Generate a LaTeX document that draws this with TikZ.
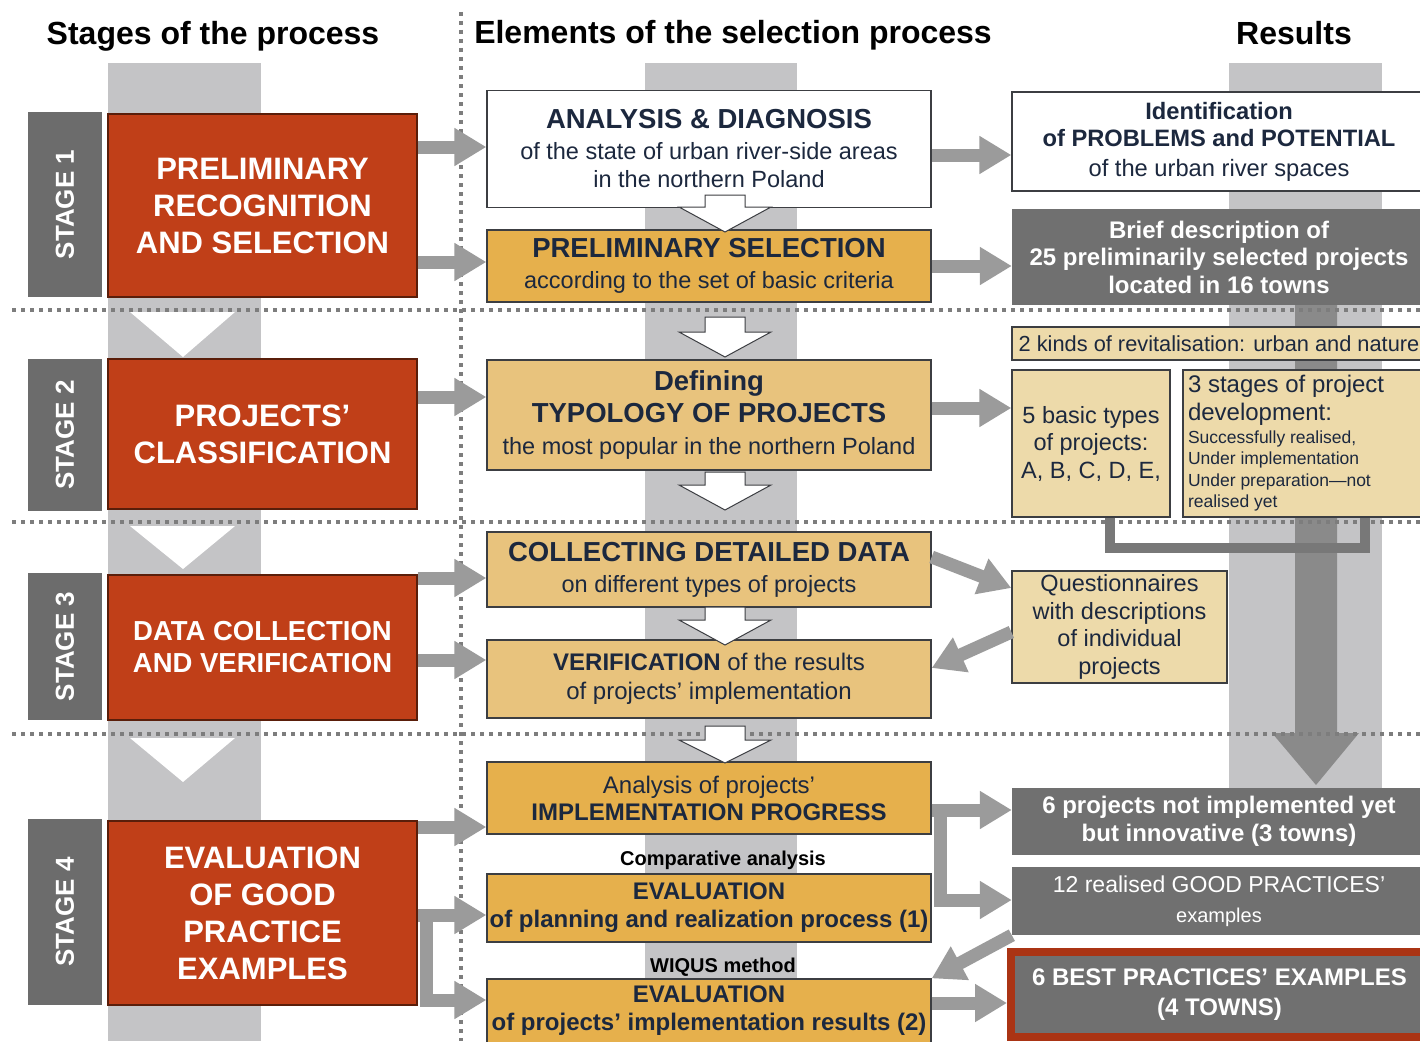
\documentclass[tikz,border=0pt]{standalone}
\usepackage{fontspec}
\setmainfont{Liberation Sans}
\usetikzlibrary{arrows.meta,calc}

\definecolor{redbox}{RGB}{192,63,24}
\definecolor{redline}{RGB}{90,30,10}
\definecolor{bestred}{RGB}{170,52,20}
\definecolor{stagegray}{RGB}{108,108,108}
\definecolor{resgray}{RGB}{112,112,112}
\definecolor{band}{RGB}{196,196,198}
\definecolor{arrowgray}{RGB}{155,155,155}
\definecolor{darkarrow}{RGB}{138,138,138}
\definecolor{brkgray}{RGB}{120,120,120}
\definecolor{orangeA}{RGB}{230,176,76}
\definecolor{orangeB}{RGB}{232,195,125}
\definecolor{tanbox}{RGB}{237,218,170}
\definecolor{navy}{RGB}{28,40,62}
\definecolor{dotgray}{RGB}{125,125,125}
\definecolor{edge}{RGB}{60,62,66}

\newcommand\ttl[1]{{\bfseries\fontsize{27.5}{31}\selectfont #1}}
\newcommand\hollowarr[4]{%
  \draw[hollow] (#1-20,#2) -- (#1+20,#2) -- (#1+20,#3) -- (#1+46,#3) -- (#1,#4) -- (#1-46,#3) -- (#1-20,#3) -- cycle;}

\begin{document}
\begin{tikzpicture}[x=1pt,y=-1pt,
  lbl/.style={rectangle, fill=stagegray, text=white, font=\bfseries\fontsize{26}{30}\selectfont, rotate=90, inner sep=0pt, minimum height=74pt},
  redb/.style={rectangle, fill=redbox, draw=redline, line width=1.2pt, text=white, font=\bfseries\fontsize{31}{37}\selectfont, align=center, minimum width=309pt, inner sep=0pt},
  mbox/.style={rectangle, draw=edge, line width=1.3pt, text=navy, align=center, minimum width=444pt, inner sep=0pt, font=\fontsize{23.5}{28}\selectfont},
  rbox/.style={rectangle, draw=edge, line width=1.3pt, text=navy, align=center, inner sep=0pt, font=\fontsize{23.5}{27.5}\selectfont},
  gbox/.style={rectangle, fill=resgray, text=white, align=center, inner sep=0pt, font=\bfseries\fontsize{24}{28}\selectfont},
  garrow/.style={draw=arrowgray, line width=13pt, -{Triangle[length=32pt,width=36pt]}},
  dots/.style={draw=dotgray, line width=4pt, dash pattern=on 4pt off 5pt},
  hollow/.style={fill=white, draw=edge, line width=1pt},
  note/.style={font=\bfseries\fontsize{20}{24}\selectfont, text=black, inner sep=0pt},
  head/.style={font=\bfseries\fontsize{32}{36}\selectfont, text=black, inner sep=0pt}
]
\path[use as bounding box] (0,0) rectangle (1420,1041);
\clip (0,0) rectangle (1420,1041);
\fill[white] (0,0) rectangle (1420,1041);

% background bands
\fill[band] (108,63) rectangle (261,1041);
\fill[band] (645,63) rectangle (797,1041);
\fill[band] (1229,63) rectangle (1382,790);
\fill[white] (130,312) -- (235,312) -- (183,357) -- cycle;
\fill[white] (130,526) -- (235,526) -- (183,569) -- cycle;
\fill[white] (130,738) -- (235,738) -- (183,782) -- cycle;
\fill[darkarrow] (1295,300) -- (1337,300) -- (1337,733) -- (1359,733) -- (1316,785) -- (1272,733) -- (1295,733) -- cycle;

% dotted separators
\draw[dots] (12,310) -- (1420,310);
\draw[dots] (12,522) -- (1420,522);
\draw[dots] (12,734) -- (1420,734);
\draw[dots] (461,12) -- (461,1041);

% headers
\node[head] (h1) at (213,36) {Stages of the process};
\node[head] (h2) at (733,35) {Elements of the selection process};
\node[head] (h3) at (1294,33) {Results};

% left column
\node[lbl, minimum width=185pt] (st1) at (65,204.5) {STAGE 1};
\node[redb, minimum height=183pt] (r1) at (262.5,205.5) {PRELIMINARY\\RECOGNITION\\AND SELECTION};
\node[lbl, minimum width=152pt] (st2) at (65,435) {STAGE 2};
\node[redb, minimum height=150pt] (r2) at (262.5,434) {PROJECTS’\\CLASSIFICATION};
\node[lbl, minimum width=147pt] (st3) at (65,646.5) {STAGE 3};
\node[redb, minimum height=145pt, font=\bfseries\fontsize{27.5}{32}\selectfont] (r3) at (262.5,647.5) {DATA COLLECTION\\AND VERIFICATION};
\node[lbl, minimum width=186pt] (st4) at (65,912) {STAGE 4};
\node[redb, minimum height=184pt] (r4) at (262.5,913) {EVALUATION\\OF GOOD\\PRACTICE\\EXAMPLES};

% middle column
\node[mbox, fill=white, minimum height=117pt] (ad) at (709,149) {\ttl{ANALYSIS \& DIAGNOSIS}\\[3pt]of the state of urban river-side areas\\in the northern Poland};
\node[mbox, fill=orangeA, minimum height=72pt] (ps) at (709,266) {\ttl{PRELIMINARY SELECTION}\\[3pt]according to the set of basic criteria};
\node[mbox, fill=orangeB, minimum height=110pt] (dt) at (709,415) {\ttl{Defining}\\[4pt]\ttl{TYPOLOGY OF PROJECTS}\\[4pt]the most popular in the northern Poland};
\node[mbox, fill=orangeB, minimum height=75pt] (cd) at (709,569.5) {\ttl{COLLECTING DETAILED DATA}\\[3pt]on different types of projects};
\node[mbox, fill=orangeB, minimum height=78pt, font=\fontsize{24}{29}\selectfont] (vr) at (709,679) {\textbf{VERIFICATION} of the results\\of projects’ implementation};
\node[mbox, fill=orangeA, minimum height=72pt, font=\fontsize{24}{27}\selectfont] (ap) at (709,798) {Analysis of projects’\\\textbf{IMPLEMENTATION PROGRESS}};
\node[note] (ca) at (723,860) {Comparative analysis};
\node[mbox, fill=orangeA, minimum height=68pt, font=\bfseries\fontsize{24}{28}\selectfont] (e1) at (709,908) {EVALUATION\\of planning and realization process (1)};
\node[note] (wq) at (723,967) {WIQUS method};
\node[mbox, fill=orangeA, minimum height=64pt, font=\bfseries\fontsize{24}{28}\selectfont] (e2) at (709,1011) {EVALUATION\\of projects’ implementation results (2)};

% hollow arrows between middle boxes
\hollowarr{725}{195}{207}{232}
\hollowarr{725}{317}{332}{357}
\hollowarr{725}{472}{485}{510}
\hollowarr{725}{607}{620}{645}
\hollowarr{725}{726}{740}{763}

% right column
\node[rbox, fill=white, minimum width=414pt, minimum height=99pt, font=\fontsize{23.7}{27}\selectfont] (id) at (1219,141.5) {\textbf{Identification}\\\textbf{of PROBLEMS and POTENTIAL}\\[3pt]of the urban river spaces};
\node[gbox, minimum width=414pt, minimum height=96pt, font=\bfseries\fontsize{24}{27.5}\selectfont] (bd) at (1219,257) {Brief description of\\25 preliminarily selected projects\\located in 16 towns};
\node[rbox, fill=tanbox, minimum width=414pt, minimum height=33pt, font=\fontsize{21.8}{26}\selectfont] (k2) at (1219,343.5) {2 kinds of revitalisation: urban and nature};
\node[rbox, fill=tanbox, minimum width=158pt, minimum height=147pt] (b5) at (1091,443.5) {5 basic types\\of projects:\\A, B, C, D, E,};
\node[rbox, fill=tanbox, minimum width=241pt, minimum height=147pt, text width=231pt, inner xsep=5pt, align=left] (s3) at (1303.5,443.5) {{\fontsize{24}{28}\selectfont\spaceskip=0pt\xspaceskip=0pt 3 stages of project\par development:\par}\vspace{1pt}{\fontsize{17.5}{21.5}\selectfont\spaceskip=0pt\xspaceskip=0pt Successfully realised,\par Under implementation\par Under preparation—not\par realised yet\par}};
\node[rbox, fill=tanbox, minimum width=215pt, minimum height=112pt] (qn) at (1119.5,627) {Questionnaires\\with descriptions\\of individual\\projects};
\node[gbox, minimum width=414pt, minimum height=67pt] (six) at (1219,821.5) {6 projects not implemented yet\\but innovative (3 towns)};
\node[gbox, minimum width=414pt, minimum height=68pt, font=\fontsize{23}{30}\selectfont] (tw) at (1219,901) {12 realised GOOD PRACTICES’\\{\fontsize{20}{24}\selectfont examples}};
\node[gbox, draw=bestred, line width=8pt, minimum width=417pt, minimum height=85pt, font=\bfseries\fontsize{24}{30}\selectfont] (best) at (1219.5,994.5) {6 BEST PRACTICES’ EXAMPLES\\(4 TOWNS)};

% bracket under the stage-2 result boxes
\draw[draw=brkgray, line width=10pt] (b5.south -| 1110,0) -- (1110,548) -- (1365,548) -- (s3.south -| 1365,0);

% connectors
\draw[garrow] (r1.east |- 0,147) -- (ad.west |- 0,147);
\draw[garrow] (r1.east |- 0,262) -- (ps.west |- 0,262);
\draw[garrow] (r2.east |- 0,397) -- (dt.west |- 0,397);
\draw[garrow] (r3.east |- 0,578) -- (cd.west |- 0,578);
\draw[garrow] (r3.east |- 0,660) -- (vr.west |- 0,660);
\draw[garrow] (r4.east |- 0,827) -- (ap.west |- 0,827);
\draw[garrow] (r4.east |- 0,915) -- (e1.west |- 0,915);
\draw[garrow] (426,909) -- (426,1000) -- (e2.west |- 0,1000);

\draw[garrow] (ad.east |- 0,155) -- (id.west |- 0,155);
\draw[garrow] (ps.east) -- (bd.west |- ps.east);
\draw[garrow] (dt.east |- 0,408) -- (b5.west |- 0,408);
\draw[garrow] (cd.east |- 0,557) -- (qn.west |- 0,588);
\draw[garrow] (qn.west |- 0,632) -- (vr.east |- 0,668);
\draw[garrow] (ap.east |- 0,810) -- (six.west |- 0,810);
\draw[garrow] (940,804) -- (940,900) -- (tw.west |- 0,900);
\draw[garrow] (tw.south west) -- (e2.north east);
\draw[garrow] (e2.east |- 0,1003) -- (best.west |- 0,1003);
\end{tikzpicture}
\end{document}
